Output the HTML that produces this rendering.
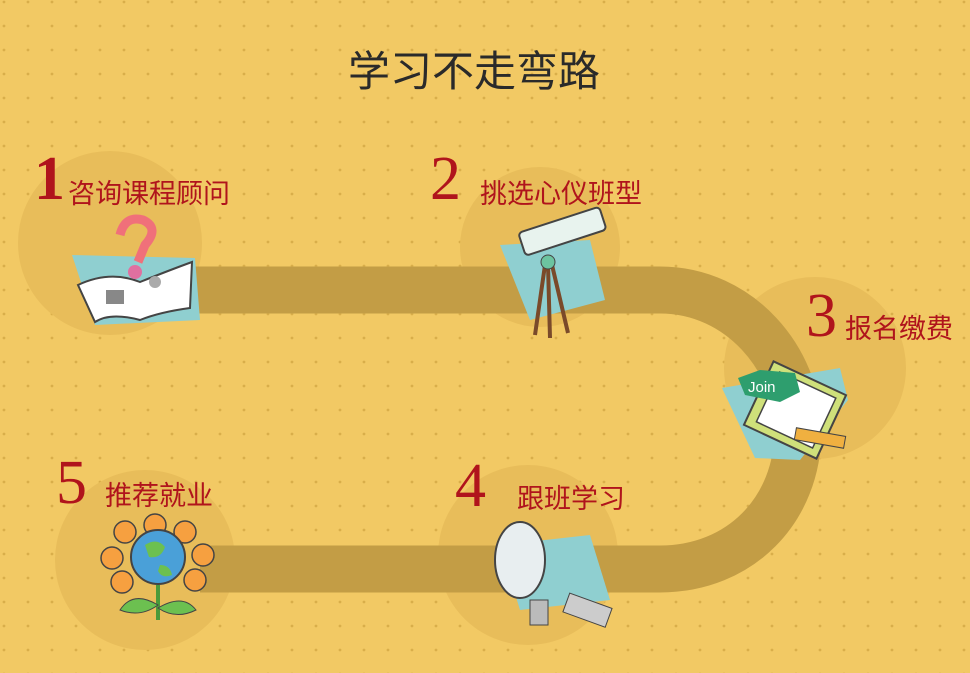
<!DOCTYPE html>
<html><head><meta charset="utf-8"><style>
body{margin:0;width:970px;height:673px;overflow:hidden;background:#f2c964;font-family:"Liberation Sans","Noto Sans CJK SC",sans-serif}
.t{position:absolute;color:#b0141c;font-size:27px;white-space:nowrap}
.n{position:absolute;color:#b0141c;font-family:"Liberation Serif",serif;font-size:62px;line-height:62px}
</style></head><body>
<svg width="970" height="673" style="position:absolute;left:0;top:0">
<defs><pattern id="d" width="24" height="24" patternUnits="userSpaceOnUse" x="-8" y="-10"><circle cx="12" cy="12" r="1.4" fill="#d9ae4a"/></pattern></defs>
<rect width="970" height="673" fill="url(#d)"/>
<g fill="#e8bd5a">
<circle cx="110" cy="243" r="92"/><circle cx="540" cy="247" r="80"/><circle cx="815" cy="368" r="91"/>
<circle cx="528" cy="555" r="90"/><circle cx="145" cy="560" r="90"/></g>
<path d="M190 290 H660 C740 290 798 360 798 430 C798 510 740 569 660 569 H200" fill="none" stroke="#c39d45" stroke-width="47"/>
<polygon points="72,255 195,258 200,320 95,325" fill="#8fcfd0"/>
<path d="M78 285 Q110 270 140 282 Q170 270 192 262 L190 308 Q160 312 140 320 Q110 312 95 322 Z" fill="#fff" stroke="#444" stroke-width="2"/>
<rect x="106" y="290" width="18" height="14" fill="#888"/><circle cx="155" cy="282" r="6" fill="#aaa"/>
<path d="M120 235 Q125 215 143 220 Q160 228 145 245 L138 262" fill="none" stroke="#f0707a" stroke-width="9"/>
<circle cx="135" cy="272" r="7" fill="#e070a0"/>
<polygon points="500,245 590,240 605,300 530,320" fill="#8fcfd0"/>
<rect x="520" y="220" width="85" height="24" rx="4" fill="#e8f3ee" stroke="#444" stroke-width="2" transform="rotate(-18 560 232)"/>
<path d="M545 265 L535 335 M548 265 L550 338 M552 265 L568 333" stroke="#7a4a2a" stroke-width="4"/>
<circle cx="548" cy="262" r="7" fill="#6cc4a0" stroke="#444"/>
<polygon points="722,388 840,368 848,400 800,460 755,458" fill="#8fcfd0"/>
<rect x="755" y="375" width="80" height="70" fill="#cfe07a" stroke="#444" stroke-width="2" transform="rotate(25 795 410)"/>
<rect x="765" y="382" width="62" height="55" fill="#fff" stroke="#444" stroke-width="1.5" transform="rotate(25 795 410)"/>
<polygon points="738,378 760,370 795,373 800,392 780,402 745,395" fill="#2e9e6e"/>
<text x="748" y="392" fill="#fff" font-size="15" font-family="Liberation Sans">Join</text>
<rect x="795" y="432" width="50" height="12" fill="#f0b040" stroke="#444" transform="rotate(10 820 438)"/>
<polygon points="500,545 590,535 610,600 520,610" fill="#8fcfd0"/>
<ellipse cx="520" cy="560" rx="25" ry="38" fill="#e8eef0" stroke="#444" stroke-width="2"/>
<rect x="530" y="600" width="18" height="25" fill="#bbb" stroke="#444"/>
<rect x="565" y="600" width="45" height="20" fill="#ccc" stroke="#444" transform="rotate(20 587 610)"/>
<g fill="#f6a040" stroke="#444" stroke-width="1.5">
<circle cx="155" cy="525" r="11"/><circle cx="185" cy="532" r="11"/><circle cx="203" cy="555" r="11"/><circle cx="195" cy="580" r="11"/>
<circle cx="125" cy="532" r="11"/><circle cx="112" cy="558" r="11"/><circle cx="122" cy="582" r="11"/></g>
<circle cx="158" cy="557" r="27" fill="#4aa0d8" stroke="#444" stroke-width="2"/>
<path d="M145 545 q12 -8 20 2 q-4 12 -16 10z M160 565 q10 0 12 10 q-10 4 -14 -4z" fill="#6cc050"/>
<path d="M158 585 V620" stroke="#4a9a3a" stroke-width="4"/>
<path d="M158 605 q-25 -15 -38 5 q20 8 38 -5z M158 608 q25 -15 38 2 q-20 10 -38 -2z" fill="#6cc050" stroke="#444"/>
</svg>
<div style="position:absolute;left:0;width:948px;top:38px;text-align:center;font-size:42px;color:#2a2a2a">学习不走弯路</div>
<div class="n" style="left:34px;top:148px;font-weight:bold">1</div>
<div class="t" style="left:68px;top:172px">咨询课程顾问</div>
<div class="n" style="left:430px;top:148px">2</div>
<div class="t" style="left:480px;top:172px">挑选心仪班型</div>
<div class="n" style="left:806px;top:285px">3</div>
<div class="t" style="left:845px;top:307px">报名缴费</div>
<div class="n" style="left:455px;top:455px">4</div>
<div class="t" style="left:517px;top:477px">跟班学习</div>
<div class="n" style="left:56px;top:452px">5</div>
<div class="t" style="left:105px;top:474px">推荐就业</div>
</body></html>
